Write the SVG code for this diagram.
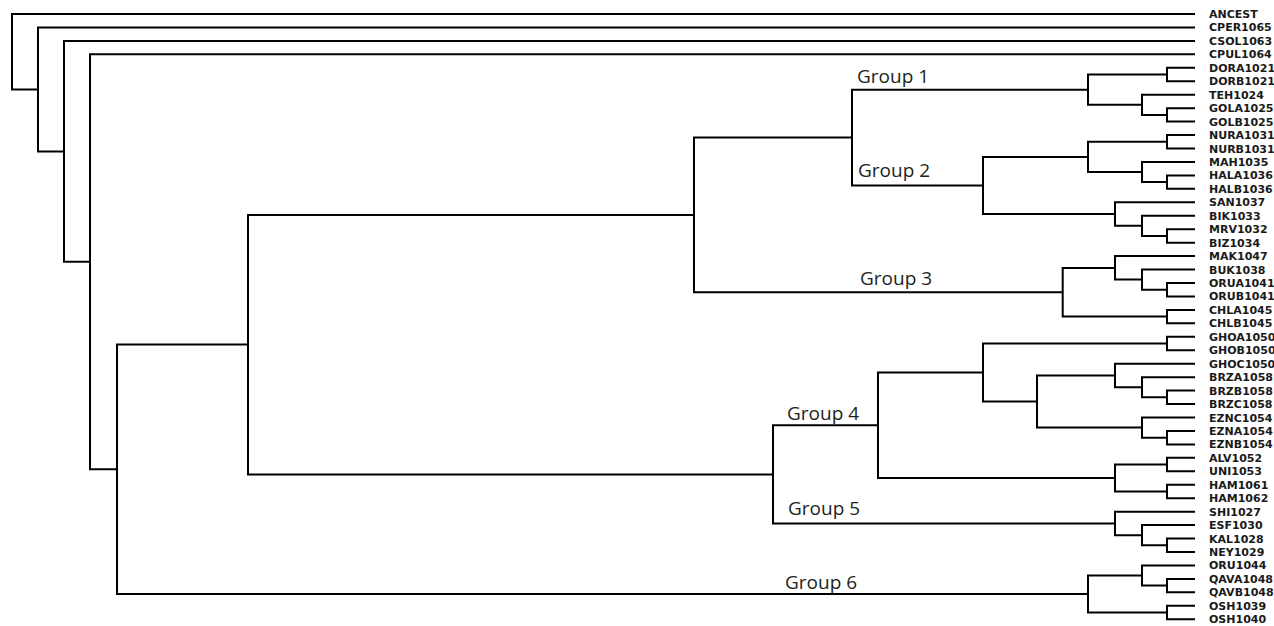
<svg xmlns="http://www.w3.org/2000/svg" width="1274" height="626" viewBox="0 0 1274 626">
<style>
.e{fill:none;stroke:#000;stroke-width:2;stroke-linejoin:miter}
.l{font-family:"DejaVu Sans",Verdana,sans-serif;font-weight:bold;font-size:11px;fill:#1a1a1a}
.g{font-family:"Open Sans","Liberation Sans",sans-serif;font-size:19px;fill:#231f20}
</style>
<rect width="1274" height="626" fill="#fff"/>
<g id="connectors">
<path class="e" d="M1195 14H12V89.4H38"/>
<path class="e" d="M1195 27.45H38V151.4H64"/>
<path class="e" d="M1195 40.9H64V261.8H90"/>
<path class="e" d="M1195 54.35H90V469.3H117"/>
<path class="e" d="M248 344.6H117V594H1088"/>
<path class="e" d="M694 214.9H248V474.4H773"/>
<path class="e" d="M852 137.6H694V292.3H1062.7"/>
<path class="e" d="M1088 89.65H852V185.5H983"/>
<path class="e" d="M1167 74.5H1088V104.8H1142"/>
<path class="e" d="M1195 67.8H1167V81.25H1195"/>
<path class="e" d="M1195 94.7H1142V114.9H1167"/>
<path class="e" d="M1195 108.15H1167V121.6H1195"/>
<path class="e" d="M1088 156.9H983V214.1H1115"/>
<path class="e" d="M1167 141.8H1088V172H1142"/>
<path class="e" d="M1195 135.05H1167V148.5H1195"/>
<path class="e" d="M1195 161.95H1142V182.1H1167"/>
<path class="e" d="M1195 175.4H1167V188.85H1195"/>
<path class="e" d="M1195 202.3H1115V225.8H1142"/>
<path class="e" d="M1195 215.75H1142V235.9H1167"/>
<path class="e" d="M1195 229.2H1167V242.65H1195"/>
<path class="e" d="M1115 267.9H1062.7V316.6H1167"/>
<path class="e" d="M1195 256.1H1115V279.6H1142"/>
<path class="e" d="M1195 269.55H1142V289.7H1167"/>
<path class="e" d="M1195 283H1167V296.45H1195"/>
<path class="e" d="M1195 309.9H1167V323.35H1195"/>
<path class="e" d="M878 425.3H773V523.4H1115"/>
<path class="e" d="M983 372.5H878V478H1115"/>
<path class="e" d="M1167 343.5H983V401.5H1037"/>
<path class="e" d="M1195 336.8H1167V350.25H1195"/>
<path class="e" d="M1115 375.5H1037V427.6H1142"/>
<path class="e" d="M1195 363.7H1115V387.2H1142"/>
<path class="e" d="M1195 377.15H1142V397.3H1167"/>
<path class="e" d="M1195 390.6H1167V404.05H1195"/>
<path class="e" d="M1195 417.5H1142V437.7H1167"/>
<path class="e" d="M1195 430.95H1167V444.4H1195"/>
<path class="e" d="M1167 464.6H1115V491.5H1167"/>
<path class="e" d="M1195 457.85H1167V471.3H1195"/>
<path class="e" d="M1195 484.75H1167V498.2H1195"/>
<path class="e" d="M1195 511.65H1115V535.2H1142"/>
<path class="e" d="M1195 525.1H1142V545.3H1167"/>
<path class="e" d="M1195 538.55H1167V552H1195"/>
<path class="e" d="M1142 575.5H1088V612.5H1167"/>
<path class="e" d="M1195 565.45H1142V585.6H1167"/>
<path class="e" d="M1195 578.9H1167V592.35H1195"/>
<path class="e" d="M1195 605.8H1167V619.25H1195"/>
</g>
<g id="group-labels">
<g id="group1"><text class="g" x="857" y="83">Group 1</text></g>
<g id="group2"><text class="g" x="858" y="177">Group 2</text></g>
<g id="group3"><text class="g" x="860" y="285">Group 3</text></g>
<g id="group4"><text class="g" x="787" y="420">Group 4</text></g>
<g id="group5"><text class="g" x="788" y="515">Group 5</text></g>
<g id="group6"><text class="g" x="785" y="589">Group 6</text></g>
</g>
<g id="leaves">
<g id="n-ANCEST"><text class="l" x="1209" y="18">ANCEST</text></g>
<g id="n-CPER1065"><text class="l" x="1209" y="31.45">CPER1065</text></g>
<g id="n-CSOL1063"><text class="l" x="1209" y="44.9">CSOL1063</text></g>
<g id="n-CPUL1064"><text class="l" x="1209" y="58.35">CPUL1064</text></g>
<g id="n-DORA1021"><text class="l" x="1209" y="71.8">DORA1021</text></g>
<g id="n-DORB1021"><text class="l" x="1209" y="85.25">DORB1021</text></g>
<g id="n-TEH1024"><text class="l" x="1209" y="98.7">TEH1024</text></g>
<g id="n-GOLA1025"><text class="l" x="1209" y="112.15">GOLA1025</text></g>
<g id="n-GOLB1025"><text class="l" x="1209" y="125.6">GOLB1025</text></g>
<g id="n-NURA1031"><text class="l" x="1209" y="139.05">NURA1031</text></g>
<g id="n-NURB1031"><text class="l" x="1209" y="152.5">NURB1031</text></g>
<g id="n-MAH1035"><text class="l" x="1209" y="165.95">MAH1035</text></g>
<g id="n-HALA1036"><text class="l" x="1209" y="179.4">HALA1036</text></g>
<g id="n-HALB1036"><text class="l" x="1209" y="192.85">HALB1036</text></g>
<g id="n-SAN1037"><text class="l" x="1209" y="206.3">SAN1037</text></g>
<g id="n-BIK1033"><text class="l" x="1209" y="219.75">BIK1033</text></g>
<g id="n-MRV1032"><text class="l" x="1209" y="233.2">MRV1032</text></g>
<g id="n-BIZ1034"><text class="l" x="1209" y="246.65">BIZ1034</text></g>
<g id="n-MAK1047"><text class="l" x="1209" y="260.1">MAK1047</text></g>
<g id="n-BUK1038"><text class="l" x="1209" y="273.55">BUK1038</text></g>
<g id="n-ORUA1041"><text class="l" x="1209" y="287">ORUA1041</text></g>
<g id="n-ORUB1041"><text class="l" x="1209" y="300.45">ORUB1041</text></g>
<g id="n-CHLA1045"><text class="l" x="1209" y="313.9">CHLA1045</text></g>
<g id="n-CHLB1045"><text class="l" x="1209" y="327.35">CHLB1045</text></g>
<g id="n-GHOA1050"><text class="l" x="1209" y="340.8">GHOA1050</text></g>
<g id="n-GHOB1050"><text class="l" x="1209" y="354.25">GHOB1050</text></g>
<g id="n-GHOC1050"><text class="l" x="1209" y="367.7">GHOC1050</text></g>
<g id="n-BRZA1058"><text class="l" x="1209" y="381.15">BRZA1058</text></g>
<g id="n-BRZB1058"><text class="l" x="1209" y="394.6">BRZB1058</text></g>
<g id="n-BRZC1058"><text class="l" x="1209" y="408.05">BRZC1058</text></g>
<g id="n-EZNC1054"><text class="l" x="1209" y="421.5">EZNC1054</text></g>
<g id="n-EZNA1054"><text class="l" x="1209" y="434.95">EZNA1054</text></g>
<g id="n-EZNB1054"><text class="l" x="1209" y="448.4">EZNB1054</text></g>
<g id="n-ALV1052"><text class="l" x="1209" y="461.85">ALV1052</text></g>
<g id="n-UNI1053"><text class="l" x="1209" y="475.3">UNI1053</text></g>
<g id="n-HAM1061"><text class="l" x="1209" y="488.75">HAM1061</text></g>
<g id="n-HAM1062"><text class="l" x="1209" y="502.2">HAM1062</text></g>
<g id="n-SHI1027"><text class="l" x="1209" y="515.65">SHI1027</text></g>
<g id="n-ESF1030"><text class="l" x="1209" y="529.1">ESF1030</text></g>
<g id="n-KAL1028"><text class="l" x="1209" y="542.55">KAL1028</text></g>
<g id="n-NEY1029"><text class="l" x="1209" y="556">NEY1029</text></g>
<g id="n-ORU1044"><text class="l" x="1209" y="569.45">ORU1044</text></g>
<g id="n-QAVA1048"><text class="l" x="1209" y="582.9">QAVA1048</text></g>
<g id="n-QAVB1048"><text class="l" x="1209" y="596.35">QAVB1048</text></g>
<g id="n-OSH1039"><text class="l" x="1209" y="609.8">OSH1039</text></g>
<g id="n-OSH1040"><text class="l" x="1209" y="623.25">OSH1040</text></g>
</g>
</svg>
